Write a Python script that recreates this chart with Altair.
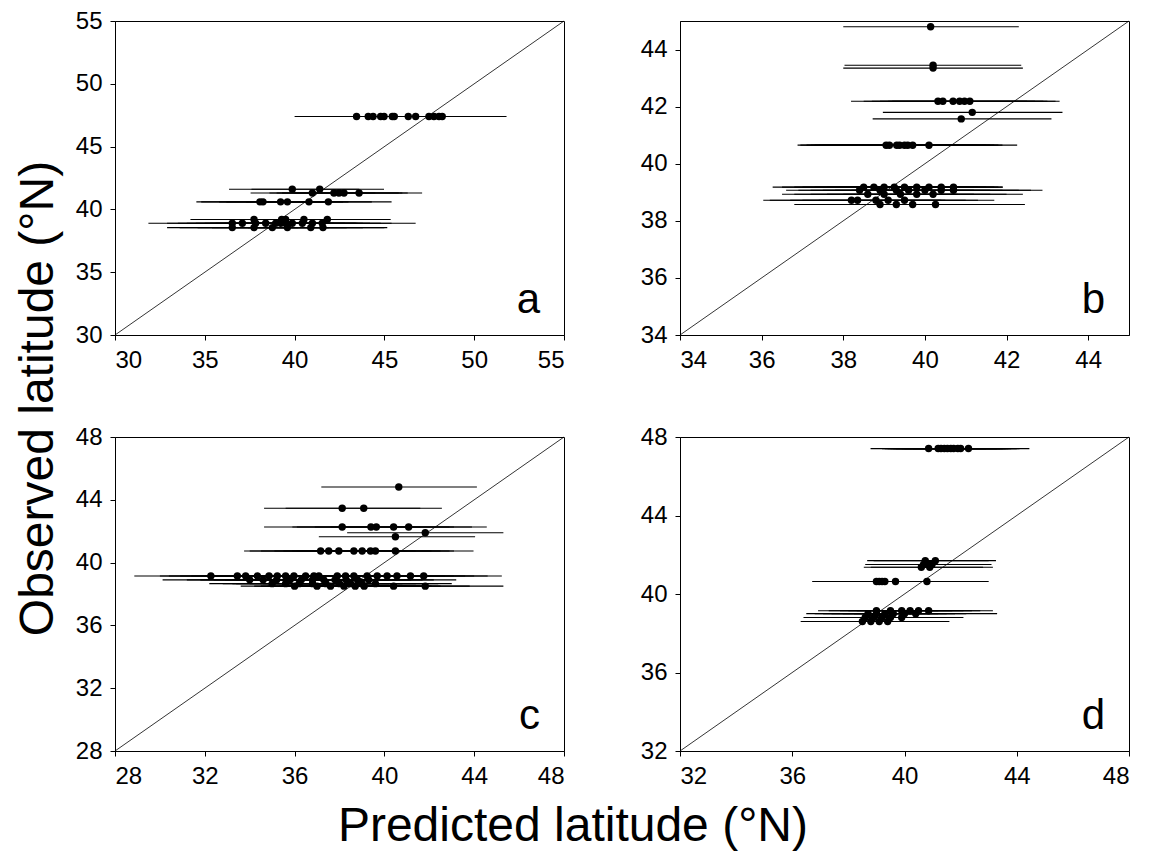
import altair as alt
import pandas as pd

FONT = "Liberation Sans"

# ---------------- Panel a ----------------
dom_a = [30, 55]
ticks_a = [30, 35, 40, 45, 50, 55]
obs_a = [47.4, 47.4, 47.4, 47.4, 47.4, 47.4, 47.4, 47.4, 47.4, 47.4, 47.4, 47.4, 47.4,
         41.6, 41.6,
         41.3, 41.3, 41.3, 41.3, 41.3,
         40.6, 40.6, 40.6, 40.6, 40.6, 40.6,
         39.2, 39.2, 39.2, 39.2, 39.2,
         38.9, 38.9, 38.9, 38.9, 38.9, 38.9, 38.9, 38.9, 38.9, 38.9, 38.9,
         38.55, 38.55, 38.55, 38.55, 38.55, 38.55]
pred_a = [43.45, 44.1, 44.37, 44.79, 44.98, 45.44, 45.55, 46.33, 46.74, 47.48, 47.76, 48.04, 48.22,
          39.87, 41.4,
          40.99, 42.19, 42.47, 42.75, 43.59,
          38.07, 38.24, 39.22, 39.6, 40.8, 41.88,
          37.74, 39.28, 39.5, 40.52, 41.82,
          36.53, 37.09, 37.83, 38.39, 38.95, 39.23, 39.5, 39.87, 40.43, 40.99, 41.54,
          36.53, 37.74, 38.76, 39.6, 40.9, 41.58]
lo_a = [40.0, 40.6, 41.2, 41.5, 41.7, 42.0, 42.2, 43.0, 43.3, 43.8, 44.1, 44.5, 44.8,
        36.35, 37.6,
        37.55, 38.6, 39.0, 39.3, 40.0,
        34.53, 34.8, 35.8, 36.2, 37.3, 38.4,
        34.2, 35.8, 36.0, 37.0, 38.3,
        31.86, 32.9, 33.5, 34.0, 34.5, 35.0, 35.3, 35.6, 36.1, 36.7, 37.3,
        32.9, 33.6, 34.6, 35.4, 36.7, 37.4]
hi_a = [47.2, 47.9, 48.0, 48.6, 48.3, 49.0, 49.3, 50.0, 50.2, 50.4, 50.8, 51.2, 51.8,
        43.6, 44.98,
        44.5, 45.8, 46.0, 46.3, 47.1,
        41.6, 41.8, 42.7, 43.0, 44.3, 45.4,
        41.3, 42.8, 43.0, 44.0, 45.35,
        41.0, 41.5, 42.2, 42.8, 43.4, 43.5, 43.8, 44.2, 44.8, 45.4, 46.74,
        40.2, 41.9, 42.9, 43.8, 45.16, 45.0]

# ---------------- Panel b ----------------
dom_b = [34, 45]
ticks_b = [34, 36, 38, 40, 42, 44]
obs_b = [44.8,
         43.45, 43.35,
         42.19, 42.19, 42.19, 42.19, 42.19, 42.19,
         41.8,
         41.57,
         40.65, 40.65, 40.65, 40.65, 40.65, 40.65, 40.65, 40.65,
         39.18, 39.18, 39.18, 39.18, 39.18, 39.18, 39.18, 39.18, 39.18,
         39.07, 39.07, 39.07, 39.07, 39.07, 39.07, 39.07,
         38.93, 38.93, 38.93, 38.93, 38.93,
         38.72, 38.72, 38.72, 38.72, 38.72,
         38.57, 38.57, 38.57, 38.57]
pred_b = [40.14,
          40.2, 40.2,
          40.32, 40.44, 40.69, 40.85, 40.97, 41.1,
          41.16,
          40.89,
          39.05, 39.13, 39.31, 39.38, 39.5, 39.58, 39.7, 40.1,
          38.5, 38.75, 39.0, 39.25, 39.5, 39.8, 40.1, 40.4, 40.7,
          38.4, 38.9, 39.3, 39.6, 40.0, 40.4, 40.7,
          38.6, 39.0, 39.4, 39.8, 40.2,
          38.2, 38.35, 38.8, 39.1, 39.5,
          38.9, 39.3, 39.7, 40.26]
lo_b = [38.0,
        38.03, 38.0,
        38.19, 38.5, 38.7, 38.9, 39.1, 39.2,
        38.97,
        38.72,
        36.88, 36.95, 37.1, 37.2, 37.3, 37.4, 37.5, 37.9,
        36.27, 36.5, 36.8, 37.0, 37.3, 37.6, 37.9, 38.2, 38.5,
        36.6, 36.9, 37.2, 37.5, 37.8, 38.2, 38.5,
        36.5, 36.8, 37.2, 37.6, 38.0,
        36.04, 36.2, 36.7, 37.0, 37.4,
        36.8, 37.1, 37.5, 38.1]
hi_b = [42.3,
        42.36, 42.4,
        42.5, 42.7, 42.9, 43.0, 43.2, 43.3,
        43.37,
        43.1,
        41.2, 41.3, 41.5, 41.6, 41.7, 41.8, 41.9, 42.26,
        40.6, 40.9, 41.1, 41.3, 41.5, 41.7, 41.8, 41.9, 41.91,
        40.7, 41.2, 41.6, 41.9, 42.3, 42.6, 42.88,
        40.8, 41.2, 41.6, 42.0, 42.4,
        40.4, 40.5, 41.0, 41.3, 41.7,
        41.1, 41.5, 41.9, 42.45]

# ---------------- Panel c ----------------
dom_c = [28, 48]
ticks_c = [28, 32, 36, 40, 44, 48]
obs_c = [44.82,
         43.46, 43.46,
         42.27, 42.27, 42.27, 42.27, 42.27,
         41.9,
         41.65,
         40.74, 40.74, 40.74, 40.74, 40.74, 40.74, 40.74, 40.74,
         39.15, 39.15, 39.15, 39.15, 39.15, 39.15, 39.15, 39.15, 39.15, 39.15,
         39.15, 39.15, 39.15, 39.15, 39.15, 39.15, 39.15, 39.15, 39.15, 39.15,
         38.9, 38.9, 38.9, 38.9, 38.9, 38.9, 38.9, 38.9, 38.9, 38.9, 38.9,
         38.66, 38.66, 38.66, 38.66, 38.66, 38.66, 38.66, 38.66, 38.66,
         38.5, 38.5, 38.5, 38.5, 38.5, 38.5, 38.5, 38.5]
pred_c = [40.64,
          38.12, 39.08,
          38.12, 39.4, 39.64, 40.41, 41.08,
          41.82,
          40.49,
          37.16, 37.52, 37.97, 38.64, 39.01, 39.38, 39.6, 40.49,
          32.27, 33.45, 33.82, 34.34, 34.86, 35.23, 35.6, 35.97, 36.49, 36.86,
          37.08, 37.9, 38.27, 38.64, 39.23, 39.68, 40.12, 40.56, 41.16, 41.75,
          34.0, 34.6, 35.2, 35.8, 36.3, 36.8, 37.3, 37.8, 38.3, 38.8, 39.3,
          35.0, 35.6, 36.2, 36.8, 37.4, 38.0, 38.5, 39.0, 39.6,
          36.0, 37.0, 37.6, 38.2, 38.7, 39.1, 40.41, 41.82]
lo_c = [37.19,
        34.64, 35.6,
        34.64, 35.9, 36.1, 36.9, 37.6,
        38.34,
        37.08,
        33.75, 34.0, 34.5, 35.1, 35.5, 35.9, 36.1, 37.0,
        28.86, 30.0, 30.4, 30.9, 31.4, 31.8, 32.2, 32.5, 33.1, 33.4,
        33.7, 34.5, 34.8, 35.2, 35.8, 36.2, 36.7, 37.1, 37.7, 38.3,
        30.12, 31.2, 31.8, 32.4, 32.9, 33.4, 33.9, 34.4, 34.9, 35.4, 35.9,
        33.23, 32.2, 32.8, 33.4, 34.0, 34.6, 35.1, 35.6, 36.2,
        34.5, 33.6, 34.2, 34.8, 35.3, 35.7, 37.0, 38.4]
hi_c = [44.12,
        41.6, 42.56,
        41.6, 42.9, 43.1, 43.9, 44.56,
        45.3,
        44.04,
        40.6, 41.0, 41.4, 42.1, 42.5, 42.9, 43.1, 43.97,
        35.7, 36.9, 37.3, 37.8, 38.3, 38.7, 39.1, 39.4, 40.0, 40.3,
        40.6, 41.4, 41.7, 42.1, 42.7, 43.1, 43.6, 44.0, 44.6, 45.23,
        37.4, 38.0, 38.6, 39.2, 39.7, 40.2, 40.7, 41.2, 41.7, 42.2, 43.2,
        38.4, 39.0, 39.6, 40.2, 40.8, 41.4, 41.9, 42.4, 43.0,
        39.4, 40.4, 41.0, 41.6, 42.1, 42.5, 43.8, 45.3]

# ---------------- Panel d ----------------
dom_d = [32, 48]
ticks_d = [32, 36, 40, 44, 48]
obs_d = [47.41, 47.41, 47.41, 47.41, 47.41, 47.41, 47.41, 47.41, 47.41, 47.41,
         41.7, 41.7,
         41.5, 41.5, 41.5,
         41.36, 41.36,
         40.64, 40.64, 40.64, 40.64, 40.64, 40.64,
         39.15, 39.15, 39.15, 39.15, 39.15, 39.15,
         39.0, 39.0, 39.0, 39.0, 39.0, 39.0,
         38.8, 38.8, 38.8, 38.8, 38.8,
         38.6, 38.6, 38.6, 38.6]
pred_d = [40.86, 41.2, 41.3, 41.42, 41.53, 41.65, 41.75, 41.9, 42.0, 42.28,
          40.74, 41.1,
          40.68, 40.86, 40.98,
          40.6, 40.9,
          39.0, 39.1, 39.2, 39.3, 39.68, 40.8,
          39.0, 39.5, 39.9, 40.2, 40.5, 40.86,
          38.7, 39.0, 39.3, 39.6, 40.0, 40.4,
          38.6, 38.9, 39.2, 39.5, 39.9,
          38.5, 38.8, 39.1, 39.4]
lo_d = [38.79, 39.2, 39.3, 39.4, 39.5, 39.6, 39.7, 39.9, 40.0, 40.3,
        38.67, 38.9,
        38.6, 38.7, 38.8,
        38.55, 38.8,
        36.71, 36.9, 37.0, 37.1, 37.5, 38.6,
        36.92, 37.3, 37.7, 38.0, 38.3, 38.7,
        36.5, 36.8, 37.1, 37.4, 37.8, 38.2,
        36.4, 36.7, 37.0, 37.3, 37.7,
        36.3, 36.6, 36.9, 37.2]
hi_d = [42.9, 43.3, 43.4, 43.5, 43.6, 43.7, 43.8, 44.0, 44.1, 44.45,
        43.0, 43.26,
        42.9, 43.0, 43.1,
        42.8, 43.15,
        41.4, 41.5, 41.6, 41.7, 42.0, 43.0,
        41.2, 41.7, 42.1, 42.4, 42.7, 43.15,
        40.9, 41.2, 41.5, 41.8, 42.2, 43.3,
        40.8, 41.1, 41.4, 41.7, 42.1,
        40.7, 41.0, 41.3, 41.6]

W, H = 449, 314


def panel(obs, pred, lo, hi, dom, ticks, letter):
    df = pd.DataFrame({"obs": obs, "pred": pred, "lo": lo, "hi": hi})
    sx = alt.Scale(domain=dom, nice=False, zero=False)
    sy = alt.Scale(domain=dom, nice=False, zero=False)
    ax = alt.Axis(values=ticks, title=None, format="d")
    ay = alt.Axis(values=ticks, title=None, format="d")
    diag = alt.Chart(pd.DataFrame({"v": dom})).mark_line(
        color="black", strokeWidth=0.8
    ).encode(x=alt.X("v:Q", scale=sx, axis=ax), y=alt.Y("v:Q", scale=sy, axis=ay))
    bars = alt.Chart(df).mark_rule(color="black", strokeWidth=1.1, clip=True).encode(
        x="lo:Q", x2="hi:Q", y="obs:Q"
    )
    pts = alt.Chart(df).mark_circle(color="black", opacity=1, size=55).encode(
        x="pred:Q", y="obs:Q"
    )
    lab = alt.Chart(pd.DataFrame({"t": [letter]})).mark_text(
        font=FONT, fontSize=42, align="right", baseline="alphabetic", color="black"
    ).encode(text="t:N", x=alt.value(W - 24), y=alt.value(H - 22))
    return alt.layer(diag, bars, pts, lab).properties(width=W, height=H)


pa = panel(obs_a, pred_a, lo_a, hi_a, dom_a, ticks_a, "a")
pb = panel(obs_b, pred_b, lo_b, hi_b, dom_b, ticks_b, "b")
pc = panel(obs_c, pred_c, lo_c, hi_c, dom_c, ticks_c, "c")
pd_ = panel(obs_d, pred_d, lo_d, hi_d, dom_d, ticks_d, "d")

grid = alt.concat(
    pa, pb, pc, pd_, columns=2,
    spacing={"row": 102, "column": 116}, bounds="flush"
).properties(
    title=alt.TitleParams(
        "Observed latitude (°N)", orient="left", anchor="middle",
        fontSize=48, font=FONT, fontWeight="normal", color="black", offset=12
    )
)
chart = alt.vconcat(grid).properties(
    title=alt.TitleParams(
        "Predicted latitude (°N)", orient="bottom", anchor="middle",
        fontSize=48, font=FONT, fontWeight="normal", color="black", offset=14
    ),
    padding={"left": 6, "top": 0, "right": 5, "bottom": 5},
).configure_axis(
    labelFont=FONT, labelFontSize=24, labelColor="black",
    domainColor="black", tickColor="black", tickSize=5, grid=False,
    labelPadding=8, domainWidth=1, tickWidth=1,
).configure_view(stroke="black", strokeWidth=1)

chart.save("out.html", embed_options={"renderer": "svg", "actions": False})
